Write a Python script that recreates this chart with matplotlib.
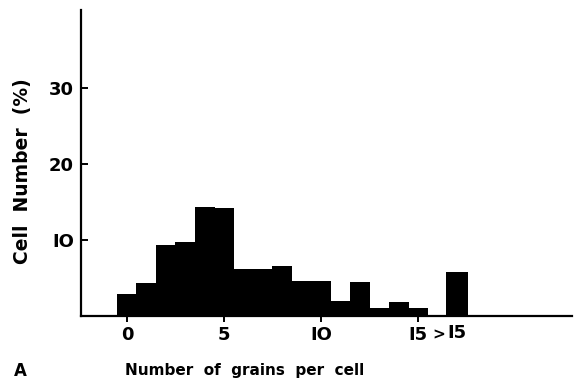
import matplotlib
matplotlib.use("Agg")
import matplotlib.pyplot as plt

# grains per cell (0..15) and the ">15" class
grains = list(range(16))
percent = [2.9, 4.4, 9.3, 9.7, 14.4, 14.2, 6.2, 6.2, 6.6, 4.6, 4.6, 2.0, 4.5, 1.1, 1.8, 1.1]
over_pos = 17
over_percent = 5.8

xticks = [0, 5, 10, 15]
xtick_labels = ["0", "5", "IO", "I5"]
yticks = [10, 20, 30]
ytick_labels = ["IO", "20", "30"]

plt.rcParams['font.family'] = ['DejaVu Sans']
plt.rcParams['font.weight'] = 'bold'

fig = plt.figure(figsize=(5.74, 3.84), dpi=100)
ax = fig.add_axes([0.141, 0.177, 0.855, 0.797])

ax.bar(grains, percent, width=1.03, color='black', linewidth=0)
ax.bar([over_pos], [over_percent], width=1.1, color='black', linewidth=0)

ax.set_xlim(-2.37, 22.9)
ax.set_ylim(0, 40.3)

for s in ['top', 'right']:
    ax.spines[s].set_visible(False)
for s in ['left', 'bottom']:
    ax.spines[s].set_linewidth(1.6)

ax.set_xticks(xticks)
ax.set_xticklabels(xtick_labels)
ax.set_yticks(yticks)
ax.set_yticklabels(ytick_labels)
ax.tick_params(axis='x', direction='out', length=4, width=1.4, labelsize=13, pad=3)
ax.tick_params(axis='y', direction='in', length=5, width=1.4, labelsize=13, pad=5)

# the ">15" class label sits next to the 15 tick, without a tick of its own
xt = ax.get_xaxis_transform()
ax.text(16.05, -0.062, ">", transform=xt, ha='center', va='center', fontsize=11, fontweight='bold')
ax.text(17.0, -0.026, "I5", transform=xt, ha='center', va='top', fontsize=13, fontweight='bold')

fig.text(0.040, 0.555, "Cell  Number  (%)", rotation=90, ha='center', va='center',
         fontsize=13.5, fontweight='bold')
fig.text(0.427, 0.035, "Number  of  grains  per  cell", ha='center', va='center',
         fontsize=11, fontweight='bold')
fig.text(0.035, 0.035, "A", ha='center', va='center', fontsize=12, fontweight='bold')

fig.savefig("out.png", dpi=100)
